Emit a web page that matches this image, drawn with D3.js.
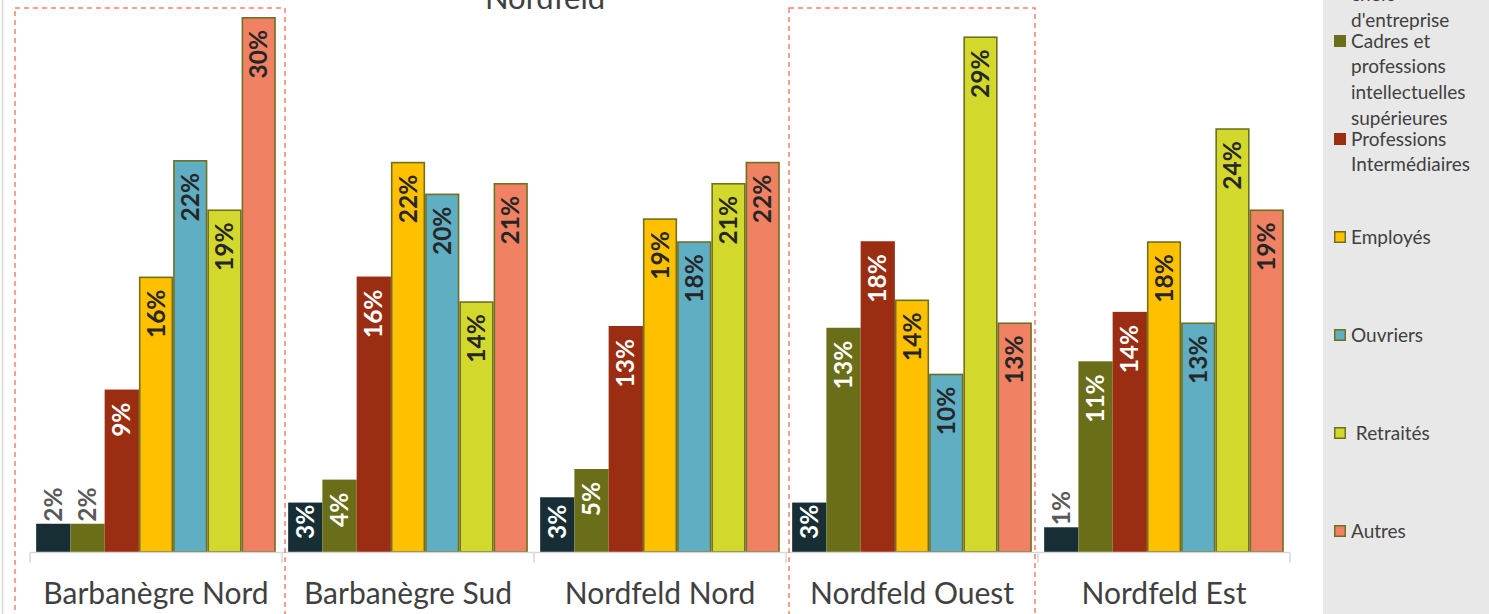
<!DOCTYPE html>
<html><head><meta charset="utf-8">
<script src="https://cdn.jsdelivr.net/npm/d3@7"></script>
<style>body{margin:0;background:#fff}svg{display:block}text{font-family:Lato,"Open Sans",sans-serif}</style>
</head><body>
<script>
// ---- data ----
const categories = ["Barbanègre Nord","Barbanègre Sud","Nordfeld Nord","Nordfeld Ouest","Nordfeld Est"];
const seriesNames = ["Artisans, commerçants, chefs d'entreprise","Cadres et professions intellectuelles supérieures","Professions Intermédiaires","Employés","Ouvriers","Retraités","Autres"];
const legendLines = [["Artisans,","commerçants,","chefs","d'entreprise"],["Cadres et","professions","intellectuelles","supérieures"],["Professions","Intermédiaires"],["Employés"],["Ouvriers"],[" Retraités"],["Autres"]];
const artisans  = [1.6, 2.8, 3.1, 2.8, 1.4];
const cadres    = [1.6, 4.1, 4.7, 12.7, 10.8];
const profInter = [9.2, 15.6, 12.8, 17.6, 13.6];
const employes  = [15.6, 22.1, 18.9, 14.3, 17.6];
const ouvriers  = [22.2, 20.3, 17.6, 10.1, 13.0];
const retraites = [19.4, 14.2, 20.9, 29.2, 24.0];
const autres    = [30.3, 20.9, 22.1, 13.0, 19.4];
const titleText = "Nordfeld";
const highlighted = ["Barbanègre Nord","Nordfeld Ouest"];

const seriesValues = [artisans, cadres, profInter, employes, ouvriers, retraites, autres];
const colors = ["#172e35","#6b6e18","#9b2d12","#ffc000","#60aec3","#d3d92c","#f08263"];
const outlined = [false,false,false,true,true,true,true];
const labelColors = ["#ffffff","#ffffff","#ffffff","#262626","#262626","#262626","#262626"];

const W = 1489, H = 614;
const svg = d3.select("body").append("svg").attr("width",W).attr("height",H);
svg.append("rect").attr("width",W).attr("height",H).attr("fill","#fff");

const x0 = d3.scaleBand().domain(categories).range([30,1290]).paddingInner(0).paddingOuter(0);
const x1 = d3.scaleBand().domain(d3.range(seriesNames.length)).range([0,x0.bandwidth()]).paddingInner(0).paddingOuter(0.18);
const y = d3.scaleLinear().domain([0,30.3]).range([552,17]);

// left border line
svg.append("line").attr("x1",2.5).attr("x2",2.5).attr("y1",0).attr("y2",H).attr("stroke","#d9d9d9").attr("stroke-width",1.5);

// legend panel
svg.append("rect").attr("x",1323).attr("y",0).attr("width",W-1323).attr("height",H).attr("fill","#e8e8e8");

// title
svg.append("text").attr("x",545).attr("y",9).attr("text-anchor","middle").attr("font-size",31).attr("fill","#404040").text(titleText);

// bars
const g = svg.append("g");
categories.forEach((cat,ci)=>{
  seriesValues.forEach((vals,si)=>{
    const v = vals[ci];
    const bx = x0(cat)+x1(si), bw = x1.bandwidth();
    const sw = outlined[si]?1.6:0;
    g.append("rect")
      .attr("x",bx+sw/2).attr("y",y(v)+sw/2)
      .attr("width",bw-sw).attr("height",y(0)-y(v)-sw/2)
      .attr("fill",colors[si])
      .attr("stroke",outlined[si]?"#6e7020":"none").attr("stroke-width",sw);
  });
});

// value labels
categories.forEach((cat,ci)=>{
  seriesValues.forEach((vals,si)=>{
    const v = vals[ci];
    const cx = x0(cat)+x1(si)+x1.bandwidth()/2;
    const top = y(v), barH = y(0)-y(v);
    const t = g.append("text").attr("font-size",24.5).attr("font-weight","bold")
      .attr("dy","0.35em").text(Math.round(v)+"%");
    const len = t.node().getComputedTextLength();
    if (v < 2) {
      t.attr("text-anchor","start").attr("fill","#595959")
       .attr("transform",`translate(${cx},${top-2}) rotate(-90)`);
    } else {
      const off = Math.max(2, Math.min(13, barH-len-13));
      t.attr("text-anchor","end").attr("fill",labelColors[si])
       .attr("transform",`translate(${cx},${top+off}) rotate(-90)`);
    }
  });
});

// x axis: baseline + boundary ticks + labels
const ax = svg.append("g");
ax.append("line").attr("x1",x0.range()[0]).attr("x2",x0.range()[1]).attr("y1",552.5).attr("y2",552.5).attr("stroke","#d9d9d9").attr("stroke-width",1.5);
const bounds = categories.map(c=>x0(c)).concat([x0.range()[1]]);
bounds.forEach(b=>ax.append("line").attr("x1",b).attr("x2",b).attr("y1",552.5).attr("y2",563).attr("stroke","#d9d9d9").attr("stroke-width",1.5));
const axisG = svg.append("g").attr("transform","translate(0,552)")
  .call(d3.axisBottom(x0).tickSize(0).tickPadding(0));
axisG.select(".domain").remove();
axisG.selectAll("text").attr("font-size",30).attr("fill","#404040").attr("font-family","Lato").attr("dy",null).attr("y",52);

// highlight boxes
highlighted.forEach((cat,i)=>{
  const left = i===0 ? x0(cat)-15 : x0(cat)+3;
  const right = x0(cat)+x0.bandwidth()+(i===0?3:-3);
  svg.append("rect").attr("x",left).attr("y",8).attr("width",right-left).attr("height",H+20)
    .attr("fill","none").attr("stroke","#f4826a").attr("stroke-width",1.5).attr("stroke-dasharray","5,4");
});

// legend
const lg = svg.append("g");
seriesNames.forEach((name,si)=>{
  const cy = -57 + si*98;
  lg.append("rect").attr("x",1334+(outlined[si]?0.75:0)).attr("y",cy-6+(outlined[si]?0.75:0))
    .attr("width",outlined[si]?10.5:12).attr("height",outlined[si]?10.5:12)
    .attr("fill",colors[si]).attr("stroke",outlined[si]?"#6e7020":"none").attr("stroke-width",1.5);
  legendLines[si].forEach((ln,li)=>{
    lg.append("text").attr("x",1351).attr("y",cy+6.5+li*25.8).attr("font-size",19)
      .attr("fill","#404040").style("white-space","pre").text(ln);
  });
});
</script>
</body></html>
